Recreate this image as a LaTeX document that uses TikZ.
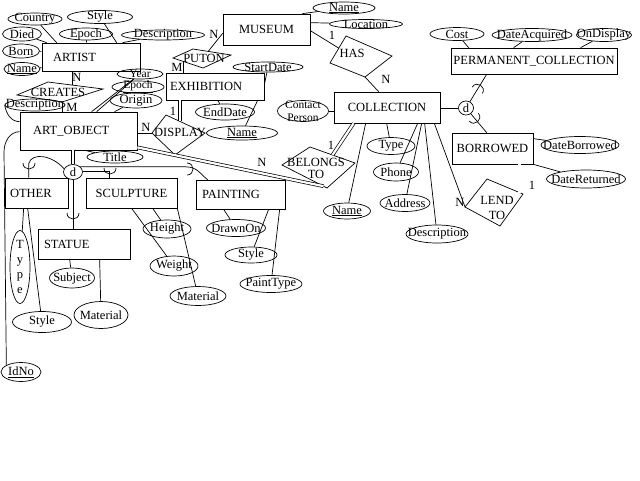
\documentclass[tikz,border=0pt]{standalone}
\usepackage{fontspec}
\setmainfont{Liberation Serif}
\usetikzlibrary{shapes.geometric,calc}
\begin{document}
\begin{tikzpicture}[x=1pt,y=-1pt, line width=0.7pt, font=\fontsize{12.5}{14}\selectfont,
 ent/.style={draw, rectangle, inner ysep=0pt, align=left},
 entc/.style={draw, rectangle, inner ysep=0pt, inner xsep=2pt, align=center},
 attr/.style={draw, ellipse, inner sep=0pt},
 dbl/.style={double, double distance=2.2pt},
 card/.style={inner sep=0pt},
 rel/.style={inner sep=0pt, align=center},
 small/.style={font=\fontsize{11.5}{12}\selectfont, inner sep=0pt},
 cupsym/.pic={\draw (-6,-5) .. controls (-6,3) and (6,3) .. (6,-5);}]
\useasboundingbox (0,0) rectangle (640,480);
\fill[white] (0,0) rectangle (640,480);

% ---------- entities ----------
\node[ent, text width=76pt, inner xsep=11pt, minimum height=28pt] (artist) at (91,57) {ARTIST};
\node[entc, text width=83pt, minimum height=31pt] (museum) at (266.5,29.5) {MUSEUM};
\node[ent, text width=90pt, inner xsep=4pt, minimum height=27pt] (exhibition) at (215,86.5) {EXHIBITION};
\node[entc, text width=162pt, minimum height=26pt] (permcoll) at (534,61) {PERMANENT\_COLLECTION};
\node[entc, text width=102pt, minimum height=31pt] (collection) at (387,107.5) {COLLECTION};
\node[ent, text width=91pt, inner xsep=13pt, minimum height=38pt] (artobject) at (78.5,131) {ART\_OBJECT};
\node[entc, text width=77pt, minimum height=31pt] (borrowed) at (492.5,148.5) {BORROWED};
\node[ent, text width=53pt, inner xsep=5pt, minimum height=30pt] (other) at (36.5,193) {OTHER};
\node[entc, text width=87pt, minimum height=30pt] (sculpture) at (131.5,193) {SCULPTURE};
\node[ent, text width=77pt, inner xsep=6pt, minimum height=29pt] (painting) at (240.5,194.5) {PAINTING};
\node[ent, text width=80pt, inner xsep=6pt, minimum height=30pt] (statue) at (84,244) {STATUE};

% ---------- attributes ----------
\node[attr, minimum width=54pt, minimum height=12pt, label={center:Country}] (country) at (35,19) {};
\node[attr, minimum width=65pt, minimum height=13pt, label={center:Style}] (astyle) at (100,17) {};
\node[attr, minimum width=39pt, minimum height=14pt, label={center:Died}] (died) at (22,34) {};
\node[attr, minimum width=53pt, minimum height=12pt, label={center:Epoch}] (aepoch) at (86,34) {};
\node[attr, minimum width=83pt, minimum height=10pt, label={center:Description}] (adesc) at (163,35) {};
\node[attr, minimum width=37pt, minimum height=14pt, label={center:Born}] (born) at (21,51) {};
\node[attr, minimum width=36pt, minimum height=13pt, label={center:\underline{Name}}] (aname) at (22,69) {};
\node[attr, minimum width=46pt, minimum height=10pt, label={[small]center:Year}] (year) at (140,74) {};
\node[attr, minimum width=52pt, minimum height=12pt, label={[small]center:\underline{Epoch}}] (oepoch) at (138,87) {};
\node[attr, minimum width=52pt, minimum height=15pt, label={center:Origin}] (origin) at (136,100.5) {};
\node[attr, minimum width=60pt, minimum height=12pt, label={center:Description}] (odesc) at (35,105) {};
\node[attr, minimum width=62pt, minimum height=12pt, label={center:\underline{Name}}] (mname) at (344,8) {};
\node[attr, minimum width=73pt, minimum height=9pt, label={center:Location}] (location) at (366,24) {};
\node[attr, minimum width=70pt, minimum height=10pt, label={center:StartDate}] (startdate) at (268,67) {};
\node[attr, minimum width=59pt, minimum height=16pt, label={center:EndDate}] (enddate) at (225,112) {};
\node[attr, minimum width=71pt, minimum height=14pt, label={center:\underline{Name}}] (ename) at (242,133) {};
\node[attr, minimum width=51pt, minimum height=21pt, label={[align=center, font=\fontsize{11.5}{12.5}\selectfont]center:Contact\\Person}] (contact) at (303,111) {};
\node[attr, minimum width=54pt, minimum height=13pt, label={center:Cost}] (cost) at (457,34) {};
\node[attr, minimum width=80pt, minimum height=13pt, label={center:DateAcquired}] (dateacq) at (532,35) {};
\node[attr, minimum width=55pt, minimum height=13pt, label={center:OnDisplay}] (ondisp) at (604,35) {};
\node[attr, minimum width=48pt, minimum height=17pt, label={center:Type}] (ctype) at (391,146) {};
\node[attr, minimum width=45pt, minimum height=18pt, label={center:Phone}] (phone) at (396,172) {};
\node[attr, minimum width=50pt, minimum height=17pt, label={center:Address}] (address) at (405,203) {};
\node[attr, minimum width=47pt, minimum height=16pt, label={center:\underline{Name}}] (cname) at (347,211) {};
\node[attr, minimum width=62pt, minimum height=18pt, label={center:Description}] (cdesc) at (437,234) {};
\node[attr, minimum width=78pt, minimum height=17pt, label={center:DateBorrowed}] (dborrowed) at (580,145) {};
\node[attr, minimum width=79pt, minimum height=18pt, label={center:DateReturned}] (dreturned) at (586,179) {};
\node[attr, minimum width=56pt, minimum height=12pt, label={center:Title}] (title) at (115,157) {};
\node[attr, minimum width=48pt, minimum height=18pt, label={center:Height}] (height) at (167,229) {};
\node[attr, minimum width=48pt, minimum height=20pt, label={center:Weight}] (weight) at (174,266) {};
\node[attr, minimum width=56pt, minimum height=19pt, label={center:Material}] (smaterial) at (198,296) {};
\node[attr, minimum width=59pt, minimum height=17pt, label={center:DrawnOn}] (drawnon) at (236,228) {};
\node[attr, minimum width=52pt, minimum height=16pt, label={center:Style}] (pstyle) at (251,255) {};
\node[attr, minimum width=62pt, minimum height=17pt, label={center:PaintType}] (painttype) at (271,284) {};
\node[attr, minimum width=20pt, minimum height=73pt, label={[align=center, font=\fontsize{12.5}{15}\selectfont]center:T\\y\\p\\e}] (otype) at (20,267) {};
\node[attr, minimum width=59pt, minimum height=21pt, label={center:Style}] (ostyle) at (42,322) {};
\node[attr, minimum width=45pt, minimum height=20pt, label={center:Subject}] (subject) at (72,278) {};
\node[attr, minimum width=54pt, minimum height=27pt, label={center:Material}] (tmaterial) at (101,315) {};
\node[attr, minimum width=40pt, minimum height=19pt, label={center:\underline{IdNo}}] (idno) at (21,372) {};

% ---------- specialisation circles ----------
\node[attr, minimum width=19pt, minimum height=15pt, label={center:d}] (d1) at (73,172) {};
\node[attr, minimum width=15pt, minimum height=14pt, label={center:d}] (d2) at (466,108) {};

% ---------- relationships ----------
\coordinate (cr-l) at (17,95);  \coordinate (cr-t) at (48,82);
\coordinate (cr-r) at (103,89); \coordinate (cr-b) at (62,102);
\draw (cr-l) -- (cr-t) -- (cr-r) -- (cr-b) -- cycle;
\node[rel] (creates) at (58,92) {CREATES};

\coordinate (pt-l) at (173,58);  \coordinate (pt-t) at (193,49);
\coordinate (pt-r) at (231,55);  \coordinate (pt-b) at (203,68);
\draw (pt-l) -- (pt-t) -- (pt-r) -- (pt-b) -- cycle;
\node[rel] (puton) at (204,58) {PUTON};

\coordinate (hs-l) at (330,63);  \coordinate (hs-t) at (346,36);
\coordinate (hs-r) at (392,56);  \coordinate (hs-b) at (365,77);
\draw (hs-l) -- (hs-t) -- (hs-r) -- (hs-b) -- cycle;
\node[rel] (has) at (352,53) {HAS};

\coordinate (dp-l) at (152,133); \coordinate (dp-t) at (166,115);
\coordinate (dp-r) at (205,133); \coordinate (dp-b) at (175,155);
\draw (dp-l) -- (dp-t) -- (dp-r) -- (dp-b) -- cycle;
\node[rel] (display) at (180,132) {DISPLAY};

\coordinate (bt-l) at (282,165); \coordinate (bt-t) at (310,147);
\coordinate (bt-r) at (355,163); \coordinate (bt-b) at (327,188);
\draw (bt-l) -- (bt-t) -- (bt-r) -- (bt-b) -- cycle;
\node[rel, font=\fontsize{12.5}{12}\selectfont] (belongs) at (316,168) {BELONGS\\TO};

\coordinate (ld-l) at (465,207); \coordinate (ld-t) at (487,179);
\coordinate (ld-r) at (523,194); \coordinate (ld-b) at (500,226);
\draw (ld-l) -- (ld-t) -- (ld-r) -- (ld-b) -- cycle;
\node[rel, font=\fontsize{12.5}{15}\selectfont] (lendto) at (497,208) {LEND\\TO};

% ---------- attribute connectors ----------
\draw (country) -- ($(artist.north west)+(15,0)$);
\draw (astyle) -- ($(artist.north west)+(75,0)$);
\draw (died) -- ($(artist.north west)+(5,0)$);
\draw (aepoch) -- ($(artist.north west)+(45,0)$);
\draw (adesc) -- ($(artist.north west)+(81,0)$);
\draw (born) -- ($(artist.north west)+(0,9)$);
\draw (aname) -- ($(artist.north west)+(0,25)$);

\draw (year) -- ($(artobject.north west)+(72,0)$);
\draw (year) -- ($(artobject.north west)+(77,0)$);
\draw (origin) -- ($(artobject.north west)+(95,0)$);
\draw (odesc.west) to[out=-80,in=180] ($(artobject.north west)+(0,10)$);
\draw ($(artobject.south west)+(65,0)$) -- (title);
\coordinate (idbend) at (4,152);
\draw ($(artobject.north west)+(0,20)$) to[out=180,in=90] (idbend) -- (idno.155);

\draw (mname) -- ($(museum.north east)+(-8,0)$);
\draw (location) -- ($(museum.north east)+(0,9)$);
\draw (startdate) -- ($(exhibition.north east)+(0,12)$);
\draw (enddate) -- ($(exhibition.south west)+(52,0)$);
\draw (ename) -- ($(exhibition.south west)+(92,0)$);

\draw (contact) -- (collection.west |- contact);
\draw (cname) -- ($(collection.south west)+(32,0)$);
\draw (ctype) -- ($(collection.south west)+(53,0)$);
\draw (phone) -- ($(collection.south west)+(84,0)$);
\draw (address) -- ($(collection.south west)+(88,0)$);
\draw (cdesc) -- ($(collection.south west)+(91,0)$);

\draw (cost) -- ($(permcoll.north west)+(18,0)$);
\draw (dateacq) -- ($(permcoll.north west)+(63,0)$);
\draw (ondisp) -- ($(permcoll.north west)+(130,0)$);
\draw (dborrowed) -- ($(borrowed.north east)+(0,6)$);
\draw (dreturned) -- (borrowed.south east);

\draw (height) -- ($(sculpture.south west)+(67,0)$);
\draw (weight) -- ($(sculpture.south west)+(46,0)$);
\draw (smaterial) -- (sculpture.south east);
\draw (drawnon) -- ($(painting.south west)+(28,0)$);
\draw (pstyle) -- ($(painting.south west)+(73,0)$);
\draw (painttype) -- ($(painting.south west)+(84,0)$);
\draw (otype) -- ($(other.south west)+(19,0)$);
\draw (ostyle) -- ($(other.south west)+(23,0)$);
\draw (subject) -- ($(statue.south west)+(32,0)$);
\draw (tmaterial) -- ($(statue.south west)+(62,0)$);

% ---------- relationship connectors ----------
\coordinate (cr-tr) at ($(cr-t)!0.436!(cr-r)$);
\draw (cr-tr |- artist.south) -- (cr-tr);
\draw (cr-b) -- (cr-b |- artobject.north);

\coordinate (pt-lb) at ($(pt-l)!0.33!(pt-b)$);
\draw (pt-lb |- exhibition.north) -- (pt-lb);
\draw ($(pt-t)!0.4!(pt-r)$) -- ($(museum.south west)+(0,-12)$);

\draw ($(museum.north east)+(0,17)$) -- ($(hs-l)!0.55!(hs-t)$);
\draw (hs-b) -- ($(collection.north west)+(45,0)$);

\coordinate (dp-tr) at ($(dp-t)!0.36!(dp-r)$);
\draw[dbl] (dp-tr |- exhibition.south) -- (dp-tr);
\draw (dp-l -| artobject.east) -- (dp-l);

\draw[dbl] ($(artobject.south east)+(0,-3)$) -- ($(bt-l)!0.92!(bt-b)$);
\draw[dbl] ($(collection.south west)+(20,0)$) -- ($(bt-t)!0.5!(bt-r)$);

\draw ($(collection.south east)+(-6,0)$) -- (ld-l);
\coordinate (ld-tr) at ($(ld-t)!0.9!(ld-r)$);
\draw[dbl] (ld-tr |- borrowed.south) -- (ld-tr);

% ---------- specialisation connectors ----------
\draw[dbl] (d1 |- artobject.south) -- (d1.north);
\draw (d1.south) -- (d1.south |- statue.north);
\pic at (73,218) {cupsym};
\coordinate (sc-top) at ($(sculpture.north west)+(24,0)$);
\draw (d1.5) -- (d1.5 -| sc-top) -- (sc-top);
\pic at (110,173) {cupsym};
\coordinate (pa-top) at ($(painting.north west)+(12,0)$);
\draw (d1.35) -- ++(105,0) .. controls +(12,0) and +(-8,-6) .. (pa-top);
\pic[rotate=90] at (192,169) {cupsym};
\coordinate (ot-top) at ($(other.north west)+(24,0)$);
\draw (d1.160) .. controls (52,155) and (32,152) .. ($(ot-top)+(0,-14)$) -- (ot-top);
\pic at (29,168) {cupsym};

\draw (collection.east |- d2) -- (d2);
\draw (d2) -- ($(permcoll.south west)+(36,0)$);
\pic[rotate=148] at (480,86) {cupsym};
\draw (d2) -- ($(borrowed.north west)+(35,0)$);
\pic[rotate=40] at (477,121) {cupsym};

% ---------- cardinalities ----------
\node[card] (c-ac) at (77,77) {N};
\node[card] (c-ca) at (72,107) {M};
\node[card] (c-pm) at (214,34) {N};
\node[card] (c-pe) at (177,67) {M};
\node[card] (c-mh) at (332,35) {1};
\node[card] (c-hc) at (386,79) {N};
\node[card] (c-de) at (173,111) {1};
\node[card] (c-da) at (146,127) {N};
\node[card] (c-ba) at (262,162) {N};
\node[card] (c-bc) at (331,145) {1};
\node[card] (c-lc) at (460,202) {N};
\node[card] (c-lb) at (532,185) {1};
\end{tikzpicture}
\end{document}
